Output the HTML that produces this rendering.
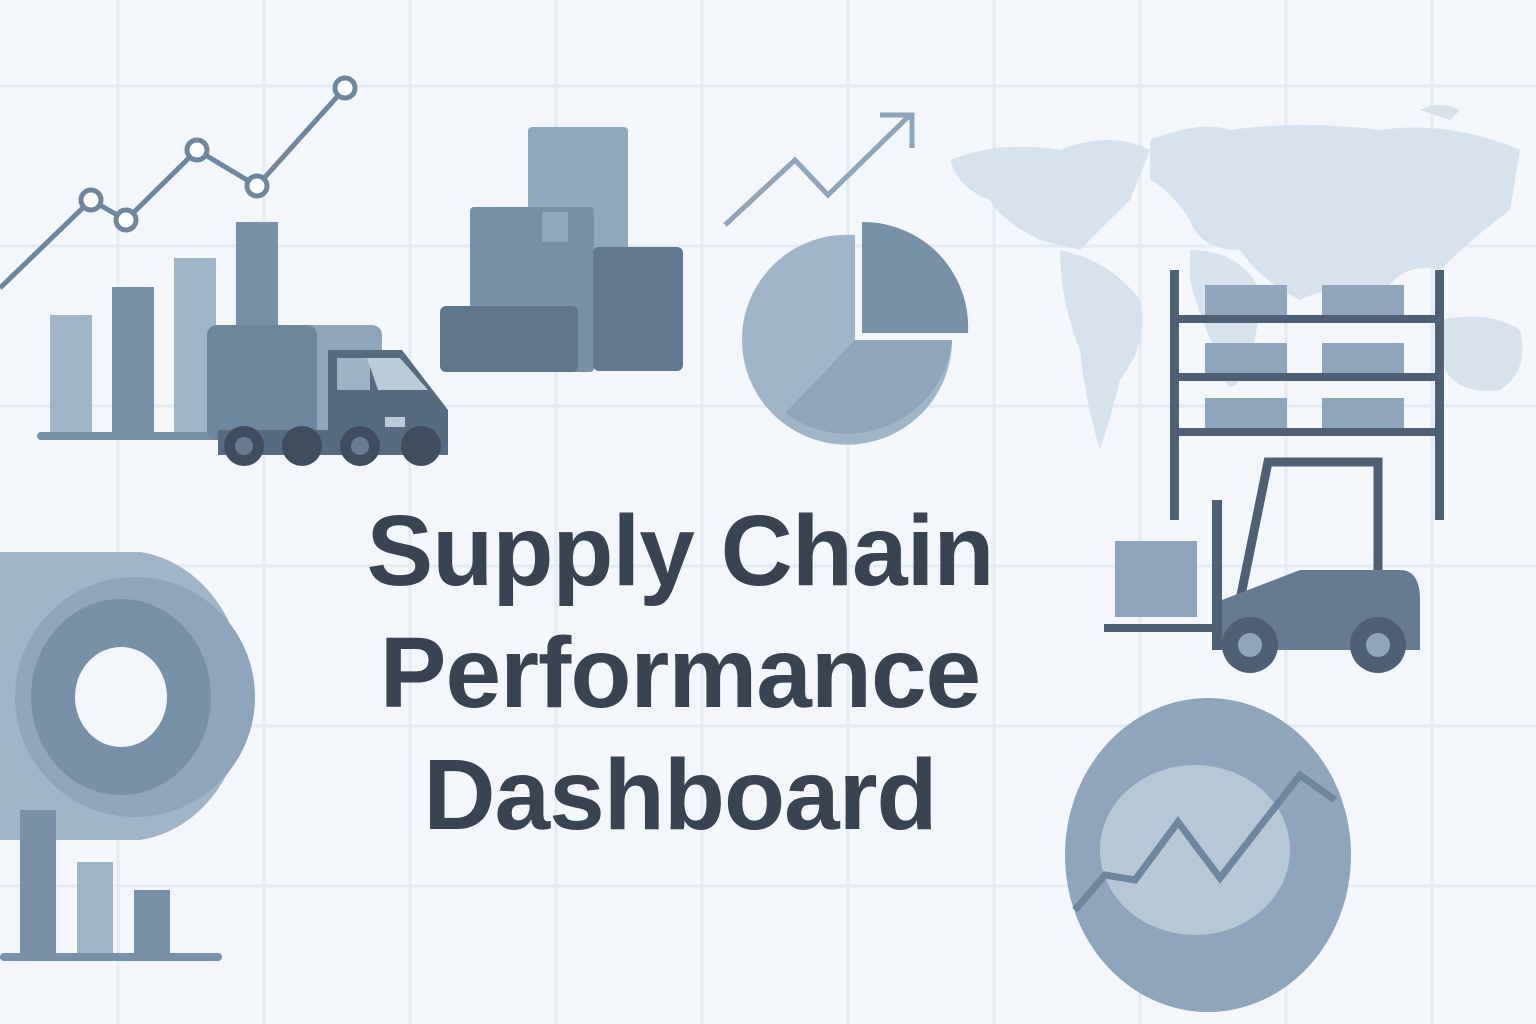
<!DOCTYPE html>
<html><head><meta charset="utf-8"><style>
html,body{margin:0;padding:0;width:1536px;height:1024px;overflow:hidden;background:#f3f7fb}
svg{position:absolute;left:0;top:0}
.title{position:absolute;left:280px;width:800px;text-align:center;font-family:"Liberation Sans",sans-serif;font-weight:bold;color:#3a4352;font-size:100px;line-height:122px;top:490px;letter-spacing:-1px}
</style></head><body>
<svg id="s" width="1536" height="1024">
<g id="grid" stroke="#e4ebf4" stroke-width="3"></g>
<g fill="#d7e2ec">
<path d="M950 160 Q1000 140 1060 150 Q1110 130 1150 150 L1130 200 Q1100 230 1080 250 L1040 240 Q1000 220 990 200 Q960 190 950 160Z"/>
<path d="M1060 250 Q1110 260 1140 300 Q1150 340 1120 380 Q1110 420 1100 450 Q1085 400 1080 350 Q1060 300 1060 250Z"/>
<path d="M1150 140 Q1200 120 1230 130 Q1300 120 1380 130 Q1450 120 1520 150 L1510 210 Q1470 240 1440 270 Q1400 260 1380 300 Q1340 280 1300 300 Q1260 280 1240 250 Q1200 250 1190 220 Q1170 190 1150 180Z"/>
<path d="M1190 250 Q1240 250 1260 290 Q1260 340 1240 380 Q1225 400 1220 360 Q1200 320 1190 280Z"/>
<path d="M1440 320 Q1490 310 1520 330 Q1530 370 1500 390 Q1460 395 1445 370Z"/>
<path d="M1420 110 Q1440 100 1460 110 L1450 120Z"/>
</g>
<g id="lc"></g>
<g>
<rect x="207" y="325" width="175" height="115" rx="10" fill="#8ea5bb"/>
<rect x="207" y="325" width="110" height="115" rx="10" fill="#6e879e"/>
<path d="M328 350 H402 L448 410 V440 H328Z" fill="#566a80"/>
<rect x="337" y="358" width="33" height="32" fill="#9fb3c7"/>
<path d="M367 358 H400 L428 390 H378Z" fill="#bccbd9"/>
<rect x="218" y="430" width="230" height="25" fill="#566a80"/>
<rect x="385" y="417" width="20" height="10" fill="#bccbd9"/>
<circle cx="244" cy="446" r="20" fill="#3f4d5e"/><circle cx="244" cy="446" r="9" fill="#667b91"/>
<circle cx="302" cy="446" r="20" fill="#3f4d5e"/>
<circle cx="360" cy="446" r="20" fill="#3f4d5e"/><circle cx="360" cy="446" r="9" fill="#667b91"/>
<circle cx="421" cy="446" r="20" fill="#3f4d5e"/>
</g>
<g>
<rect x="528" y="127" width="100" height="130" rx="4" fill="#8fa8bd"/>
<rect x="470" y="207" width="124" height="165" rx="4" fill="#7891a8"/>
<rect x="542" y="212" width="26" height="30" fill="#8fa8bd"/>
<rect x="593" y="247" width="90" height="124" rx="6" fill="#617890"/>
<rect x="440" y="306" width="138" height="66" rx="6" fill="#5f7589"/>
</g>
<g stroke="#8ea5bb" stroke-width="5" fill="none">
<path d="M725 225 L795 160 L828 195 L910 115"/><path d="M880 115 H912 V148"/>
</g>
<g>
<path d="M855 340 L855 235 A105 105 0 1 0 952 340Z" fill="#a1b5c8"/>
<path d="M855 340 L952 340 A105 105 0 0 1 785 413Z" fill="#8ea5bb"/>
<path d="M862 333 L862 222 A105 105 0 0 1 968 333Z" fill="#7891a8"/>
</g>
<g>
<g fill="#8ea5bb"><rect x="1205" y="285" width="82" height="30"/><rect x="1322" y="285" width="82" height="30"/><rect x="1205" y="343" width="82" height="30"/><rect x="1322" y="343" width="82" height="30"/><rect x="1205" y="398" width="82" height="30"/><rect x="1322" y="398" width="82" height="30"/></g>
<g fill="#4f6074"><rect x="1170" y="270" width="9" height="250"/><rect x="1435" y="270" width="9" height="250"/><rect x="1170" y="315" width="274" height="8"/><rect x="1170" y="373" width="274" height="8"/><rect x="1170" y="428" width="274" height="8"/></g>
</g>
<g>
<rect x="1115" y="541" width="82" height="76" fill="#8ea5bb"/>
<rect x="1104" y="624" width="110" height="8" fill="#4f6074"/>
<rect x="1212" y="500" width="10" height="150" fill="#4f6074"/>
<path d="M1240 600 L1268 462 H1378 V600" stroke="#4f6074" stroke-width="9" fill="none"/>
<path d="M1222 600 L1300 570 H1400 Q1420 570 1420 600 V650 H1222Z" fill="#667b91"/>
<circle cx="1250" cy="645" r="28" fill="#4f6074"/><circle cx="1250" cy="645" r="12" fill="#8ea5bb"/>
<circle cx="1378" cy="645" r="28" fill="#4f6074"/><circle cx="1378" cy="645" r="12" fill="#8ea5bb"/>
</g>
<g>
<path d="M0 552 H140 A120 145 0 0 1 140 840 H0Z" fill="#a1b5c8"/>
<circle cx="135" cy="697" r="120" fill="#8ea5bb"/>
<ellipse cx="121" cy="697" rx="90" ry="98" fill="#7891a8"/>
<ellipse cx="121" cy="697" rx="46" ry="50" fill="#f3f7fb"/>
</g>
<g id="bc"></g>
<g>
<ellipse cx="1208" cy="855" rx="143" ry="157" fill="#8ea5bb"/>
<ellipse cx="1195" cy="850" rx="95" ry="85" fill="#b6c7d6"/>
<path d="M1075 910 L1105 875 L1135 880 L1178 822 L1220 878 L1300 775 L1335 800" stroke="#6e879e" stroke-width="7" fill="none"/>
</g>
</svg>
<div class="title">Supply Chain<br>Performance<br>Dashboard</div>
<script>
const NS="http://www.w3.org/2000/svg";
const lineVals=[0,44,34,69,51,100];
const lineCats=[0,91,126,197,257,345];
const barVals=[122,150,179,215];
const smallBarVals=[147,95,67];
function mk(t,a,p){const e=document.createElementNS(NS,t);for(const k in a)e.setAttribute(k,a[k]);p.appendChild(e);return e;}
const g=document.getElementById('grid');
for(let i=0;i<11;i++){const x=118+146*i;const l=mk('line',{x1:x,y1:0,x2:x,y2:1024},g);}
for(let i=0;i<7;i++){const y=86+160*i;const l=mk('line',{x1:0,y1:y,x2:1536,y2:y},g);}
const lc=document.getElementById('lc');
const ly=v=>288-v*2;const lx=c=>c;
const bb=437,bx=i=>50+i*62,by=v=>bb-v;
const bcols=['#a1b5c8','#7891a8','#a1b5c8','#7891a8'];
barVals.forEach((v,i)=>{const r=mk('rect',{x:bx(i),y:by(v),width:42,height:v,fill:bcols[i]},lc);});
mk('rect',{x:37,y:432,width:190,height:8,rx:4,fill:'#7891a8'},lc);
const pl=mk('polyline',{points:lineVals.map((v,i)=>lx(lineCats[i])+','+ly(v)).join(' '),fill:'none',stroke:'#6e879e','stroke-width':5},lc);

lineVals.forEach((v,i)=>{if(i==0)return;const c=mk('circle',{cx:lx(lineCats[i]),cy:ly(v),r:10,fill:'#fff',stroke:'#6e879e','stroke-width':5},lc);});
const bc=document.getElementById('bc');
const sb=957;
smallBarVals.forEach((v,i)=>{const r=mk('rect',{x:20+i*57,y:sb-v,width:36,height:v,fill:i==1?'#a1b5c8':'#7891a8'},bc);});
mk('rect',{x:0,y:953,width:222,height:8,rx:4,fill:'#7891a8'},bc);
</script>
</body></html>
